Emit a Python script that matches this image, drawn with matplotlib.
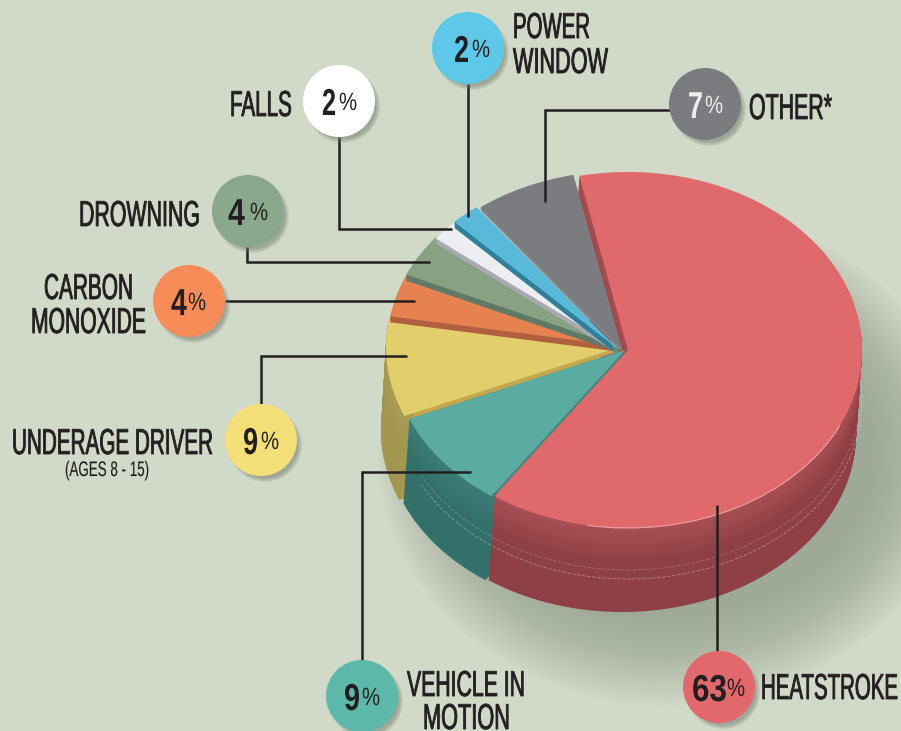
import matplotlib
matplotlib.use("Agg")
import matplotlib.pyplot as plt
from matplotlib.colors import to_rgb
from matplotlib.patches import Arc, Circle, Ellipse
from matplotlib.patheffects import AbstractPathEffect
from matplotlib.transforms import Affine2D

W, H = 901, 731
FONT = ["Liberation Sans", "DejaVu Sans"]
INK = "#231f20"

# clockwise from the top of the red slice
names = ["HEATSTROKE", "VEHICLE", "UNDERAGE", "CARBON", "DROWNING", "FALLS", "POWER", "OTHER"]
shares = [63, 9, 9, 4, 4, 2, 2, 7]

top_colors = ["#e0696c", "#59ac9f", "#e2cf6c", "#e5824f", "#87a282", "#edeef2", "#58bad8", "#7b7c80"]
side_colors = ["#8f4045", "#33706a", "#a39650", "#b0603f", "#5f7a66", "#a9aab0", "#2f7f98", "#858688"]
rim_colors = ["#a85054", "#3b7d76", "#a99c55", "#b0603f", "#5f7a66", "#a9aab0", "#2f7f98", "#858688"]
bubble_colors = ["#e2686c", "#5cb8a8", "#f5df78", "#f78c58", "#8aa88c", "#ffffff", "#5ec8e8", "#7b7c80"]

# where each slice sits and how deep it is, in pixels
slice_centers = [(628, 350), (625, 350), (620, 347), (621, 346), (620, 347), (619, 349), (618, 349), (622, 349)]
depths = [84, 84, 84, 6, 6, 5, 6, 3]
side_drift = [-6, -6, -5, 0, 0, 0, 0, 0]
lip_colors = [None, "#46887f", "#c4a850", None, None, None, None, None]
RX, RY = 234, 178
START = 102

bubble_xy = [(719, 687), (362, 696), (261, 440), (189, 301), (248, 211), (339, 101), (468, 48), (705, 104)]
number_left = [692, 344, 243, 171, 228, 322, 454, 688]
number_width = [35, 16, 15, 16, 17, 14, 15, 15]
pct_left = [727, 362, 261, 188, 250, 339, 472, 705]

leaders = [
    [(717, 651), (717, 505)],
    [(362, 660), (362, 472), (471, 472)],
    [(261, 404), (261, 356), (407, 356)],
    [(225, 301), (415, 301)],
    [(247, 247), (247, 262), (430, 262)],
    [(339, 137), (339, 229), (452, 229)],
    [(468, 84), (468, 217)],
    [(670, 110), (545, 110), (545, 202)],
]

# text, left edge, baseline, width, size (px)
label_texts = ["HEATSTROKE", "VEHICLE IN", "MOTION", "UNDERAGE DRIVER", "(AGES 8 - 15)", "CARBON",
               "MONOXIDE", "DROWNING", "FALLS", "POWER", "WINDOW", "OTHER*"]
label_x = [761, 407, 423, 12, 65, 44, 31, 79, 230, 513, 513, 749]
label_base = [699, 696, 729, 454, 476, 299, 333, 226, 116, 38, 73, 119]
label_width = [137, 118, 87, 201, 84, 89, 115, 121, 62, 77, 95, 83]
label_px = [36, 36, 36, 36, 21, 36, 36, 36, 36, 36, 36, 36]
label_stroke = [0.6, 0.6, 0.6, 0.6, 0.1, 0.6, 0.6, 0.6, 0.6, 0.6, 0.6, 0.6]
label_anchor = ["right", "left", "left", "right", "center", "right", "right", "right", "right", "left", "left", "left"]


class Squeeze(AbstractPathEffect):
    def __init__(self, sx, shift, stroke):
        self.sx = sx
        self.shift = shift
        self.stroke = stroke

    def draw_path(self, renderer, gc, tpath, affine, rgbFace=None):
        tr = Affine2D().scale(self.sx, 1) + affine + Affine2D().translate(self.shift, 0)
        gc0 = renderer.new_gc()
        gc0.copy_properties(gc)
        gc0.set_linewidth(self.stroke)
        gc0.set_foreground(rgbFace)
        renderer.draw_path(gc0, tpath, tr, rgbFace)
        gc0.restore()


fig = plt.figure(figsize=(W / 100, H / 100), dpi=100, facecolor="#d1d9c9")
renderer = fig.canvas.get_renderer()


def fit_text(ax, x, y, s, width, anchor="left", stroke=0, **kw):
    # narrow the glyphs to the width in the reference, no condensed face is installed
    pos = {"left": x, "center": x + width / 2, "right": x + width}[anchor]
    txt = ax.text(pos, y, s, ha=anchor, va="baseline", **kw)
    natural = txt.get_window_extent(renderer).width
    shift = {"left": 0, "center": 0.5, "right": 1}[anchor] * (natural - width)
    txt.set_path_effects([Squeeze(width / natural, shift, stroke)])
    return txt


# soft shadow under the pie
bg = fig.add_axes([0, 0, 1, 1], zorder=0)
bg.set_xlim(0, W)
bg.set_ylim(H, 0)
bg.axis("off")
for k in range(30):
    f = 1 - k / 30
    bg.add_patch(Ellipse((668, 455), 2 * (205 + 85 * f), 2 * (160 + 90 * f), fc="#8d9786", ec="none", alpha=0.03))

# pie, unit circle stretched to an ellipse by the axes limits
pie_ax = fig.add_axes([0, 0, 1, 1], zorder=1)


def draw_slice(i, color, dx=0, dy=0, z=1, radius=1):
    cx, cy = slice_centers[i]
    wedges, _ = pie_ax.pie(shares, startangle=START, counterclock=False, colors=[color] * len(shares),
                           radius=radius, center=((cx + dx) / RX, (H - cy - dy) / RY),
                           wedgeprops={"linewidth": 0, "zorder": z})
    for j, w in enumerate(wedges):
        if j != i:
            w.remove()


def draw_side(i, depth, z):
    c0, c1 = to_rgb(rim_colors[i]), to_rgb(side_colors[i])
    for d in range(depth, 0, -1):
        f = min(d / 35, 1)
        col = tuple(a + (b - a) * f for a, b in zip(c0, c1))
        draw_slice(i, col, side_drift[i] * d / depth, d, z)


z = 1
for i in [2, 1, 0]:
    draw_side(i, depths[i], z)
    z += 1

# faint seams on the side wall
for d, a in [(42, 0.3), (51, 0.45)]:
    pie_ax.add_patch(Arc((628 / RX, (H - 350 - d) / RY), 2, 2, theta1=-152, theta2=8, color="#e4d8cc", lw=0.6,
                         ls=(0, (4, 2)), alpha=a, zorder=z))
z += 1

for i in [2, 3, 4, 5, 6, 7, 1, 0]:
    if lip_colors[i]:
        for d in range(4, 0, -1):
            draw_slice(i, lip_colors[i], 0, d, z, radius=0.95)
        z += 1
    elif depths[i] < 10:
        draw_side(i, depths[i], z)
        z += 1
    draw_slice(i, top_colors[i], z=z)
    z += 1

# pale highlight where the red top meets its wall
pie_ax.add_patch(Arc((628 / RX, (H - 350) / RY), 2, 2, theta1=-100, theta2=-25, color="#f3a0a0", lw=0.8, zorder=z))

pie_ax.set_aspect("auto")
pie_ax.set_xlim(0, W / RX)
pie_ax.set_ylim(0, H / RY)
pie_ax.axis("off")

# leaders, bubbles, text
ax = fig.add_axes([0, 0, 1, 1], zorder=2)
ax.set_xlim(0, W)
ax.set_ylim(H, 0)
ax.axis("off")
ax.patch.set_alpha(0)

for pts in leaders:
    ax.plot([p[0] for p in pts], [p[1] for p in pts], color=INK, lw=1.8, solid_joinstyle="miter",
            solid_capstyle="butt", zorder=3)

for i, (x, y) in enumerate(bubble_xy):
    for k in range(5):
        ax.add_patch(Circle((x + 4, y + 5), 37 - k, fc="#6f7868", ec="none", alpha=0.13, zorder=4))
    ax.add_patch(Circle((x, y), 36, fc=bubble_colors[i], ec="none", zorder=5))
    num_color = "#eeeeee" if names[i] == "OTHER" else INK
    fit_text(ax, number_left[i], y + 14, str(shares[i]), number_width[i], anchor="right", fontsize=27,
             fontweight="bold", family=FONT, color=num_color, zorder=6)
    fit_text(ax, pct_left[i], y + 9, "%", 18, fontsize=18, family=FONT, color=num_color, zorder=6)

for t, x, y, w, px, st, an in zip(label_texts, label_x, label_base, label_width, label_px, label_stroke, label_anchor):
    fit_text(ax, x, y, t, w, anchor=an, stroke=st, fontsize=px * 0.72, family=FONT, color=INK, zorder=6)

fig.savefig("out.png", dpi=100, facecolor=fig.get_facecolor())
